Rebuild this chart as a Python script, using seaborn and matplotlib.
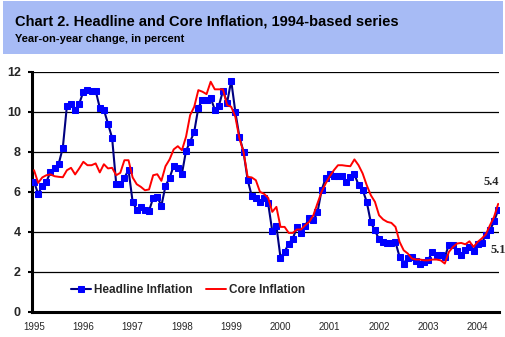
import numpy as np
import pandas as pd
import matplotlib
matplotlib.use("Agg")
import matplotlib.pyplot as plt
from matplotlib.patches import Rectangle
import seaborn as sns

# Monthly year-on-year inflation, Jan 1995 - Jun 2004 (percent)
headline = [
    6.5, 5.9, 6.3, 6.5, 7.0, 7.2, 7.4, 8.2, 10.3, 10.4, 10.1, 10.4,
    11.0, 11.1, 11.05, 11.05, 10.2, 10.1, 9.4, 8.7, 6.4, 6.4, 6.7, 7.1,
    5.5, 5.1, 5.25, 5.1, 5.05, 5.7, 5.75, 5.3, 6.3, 6.7, 7.3, 7.2,
    6.9, 8.05, 8.5, 9.0, 10.2, 10.6, 10.6, 10.7, 10.1, 10.3, 11.05, 10.45,
    11.55, 10.0, 8.75, 8.0, 6.6, 5.8, 5.67, 5.47, 5.67, 5.42, 4.03, 4.3,
    2.72, 3.0, 3.42, 3.67, 4.22, 3.95, 4.3, 4.7, 4.58, 4.97, 6.08, 6.68,
    6.9, 6.77, 6.77, 6.77, 6.48, 6.75, 6.87, 6.35, 6.1, 5.5, 4.47, 4.07,
    3.63, 3.5, 3.45, 3.45, 3.48, 2.75, 2.42, 2.72, 2.73, 2.53, 2.42, 2.52,
    2.62, 3.0, 2.87, 2.87, 2.73, 3.37, 3.37, 3.03, 2.87, 3.12, 3.23, 3.07,
    3.42, 3.45, 3.83, 4.08, 4.53, 5.1,
]
core = [
    7.08, 6.45, 6.72, 6.83, 6.87, 6.78, 6.75, 6.73, 7.08, 7.2, 6.87, 7.17,
    7.5, 7.33, 7.33, 7.42, 6.97, 7.38, 7.17, 7.2, 6.83, 6.95, 7.58, 7.58,
    6.72, 6.38, 6.25, 6.08, 6.12, 6.83, 6.88, 6.55, 7.28, 7.62, 8.12, 8.28,
    8.08, 8.75, 9.83, 10.25, 11.08, 11.0, 10.88, 11.5, 11.12, 11.12, 11.12, 10.33,
    10.25, 9.75, 8.67, 8.0, 6.75, 6.72, 6.58, 6.0, 5.9, 5.7, 5.0, 5.25,
    4.25, 4.25, 3.95, 3.95, 4.12, 4.12, 4.33, 4.5, 4.83, 5.42, 6.0, 6.42,
    6.78, 7.08, 7.33, 7.33, 7.3, 7.28, 7.62, 7.33, 6.92, 6.33, 5.83, 5.5,
    4.83, 4.62, 4.5, 4.45, 4.25, 3.5, 3.08, 2.92, 2.67, 2.62, 2.62, 2.58,
    2.58, 2.62, 2.62, 2.58, 2.42, 3.0, 3.25, 3.42, 3.45, 3.38, 3.53, 3.25,
    3.5, 3.67, 3.88, 4.33, 4.75, 5.4,
]
years = list(range(1995, 2005))
y_ticks = [0, 2, 4, 6, 8, 10, 12]

df = pd.DataFrame({
    "month": np.arange(len(headline)),
    "Headline Inflation": headline,
    "Core Inflation": core,
})

sns.set_theme(style="white")
plt.rcParams["font.family"] = ["Liberation Sans", "DejaVu Sans"]

W, H = 506, 337
fig = plt.figure(figsize=(W / 100, H / 100), dpi=100)
fig.patch.set_facecolor("white")

# Title band
fig.patches.append(Rectangle((3 / W, 1 - 54 / H), 500 / W, 53 / H,
                             transform=fig.transFigure, facecolor="#a7bbf5",
                             edgecolor="none", zorder=0))
fig.text(15 / W, 1 - 22 / H, "Chart 2. Headline and Core Inflation, 1994-based series",
         fontsize=10.5, fontweight="bold", color="black", va="center", ha="left")
fig.text(15 / W, 1 - 39 / H, "Year-on-year change, in percent",
         fontsize=8, fontweight="bold", color="black", va="center", ha="left")

ax = fig.add_axes([32 / W, 25 / H, 467 / W, 240.3 / H])
ax.set_facecolor("white")

sns.lineplot(data=df, x="month", y="Headline Inflation", ax=ax, color="#000080",
             linewidth=1.5, marker="s", markersize=4.4, markerfacecolor="#0000ff",
             markeredgecolor="#0000ff", label="Headline Inflation", zorder=3)
sns.lineplot(data=df, x="month", y="Core Inflation", ax=ax, color="#ff0000",
             linewidth=1.4, label="Core Inflation", zorder=4)

ax.set_xlim(-0.5, 113.2)
ax.set_ylim(0, 12)
ax.set_yticks(y_ticks)
ax.set_yticklabels([str(v) for v in y_ticks], fontsize=9, fontweight="bold")
ax.set_xticks([12 * k for k in range(len(years))])
ax.set_xticklabels([str(y) for y in years], fontsize=7)
ax.set_xlabel("")
ax.set_ylabel("")

ax.grid(axis="y", color="black", linewidth=0.9)
ax.grid(axis="x", visible=False)
ax.set_axisbelow(True)
for side in ("top", "right"):
    ax.spines[side].set_visible(False)
for side in ("left", "bottom"):
    ax.spines[side].set_color("black")
    ax.spines[side].set_linewidth(2.2)
ax.tick_params(axis="y", length=3, width=1.5, color="black", pad=5, left=True)
ax.tick_params(axis="x", length=0, pad=7)

# Latest values
last = len(headline) - 1
ax.annotate(f"{core[-1]:.1f}", (last, core[-1]), xytext=(-5, 16),
            textcoords="offset points", ha="center", va="center",
            fontsize=9, fontweight="bold", family="Liberation Serif",
            annotation_clip=False)
ax.annotate(f"{headline[-1]:.1f}", (last, headline[-1]), xytext=(0, -29),
            textcoords="offset points", ha="center", va="center",
            fontsize=9, fontweight="bold", family="Liberation Serif",
            annotation_clip=False)

leg = ax.legend(loc="center", bbox_to_anchor=(0.334, 0.092), ncol=2,
                frameon=False, fontsize=8.5, handlelength=1.7,
                columnspacing=1.2, handletextpad=0.2)
for t in leg.get_texts():
    t.set_fontweight("bold")

fig.savefig("out.png", dpi=100)
